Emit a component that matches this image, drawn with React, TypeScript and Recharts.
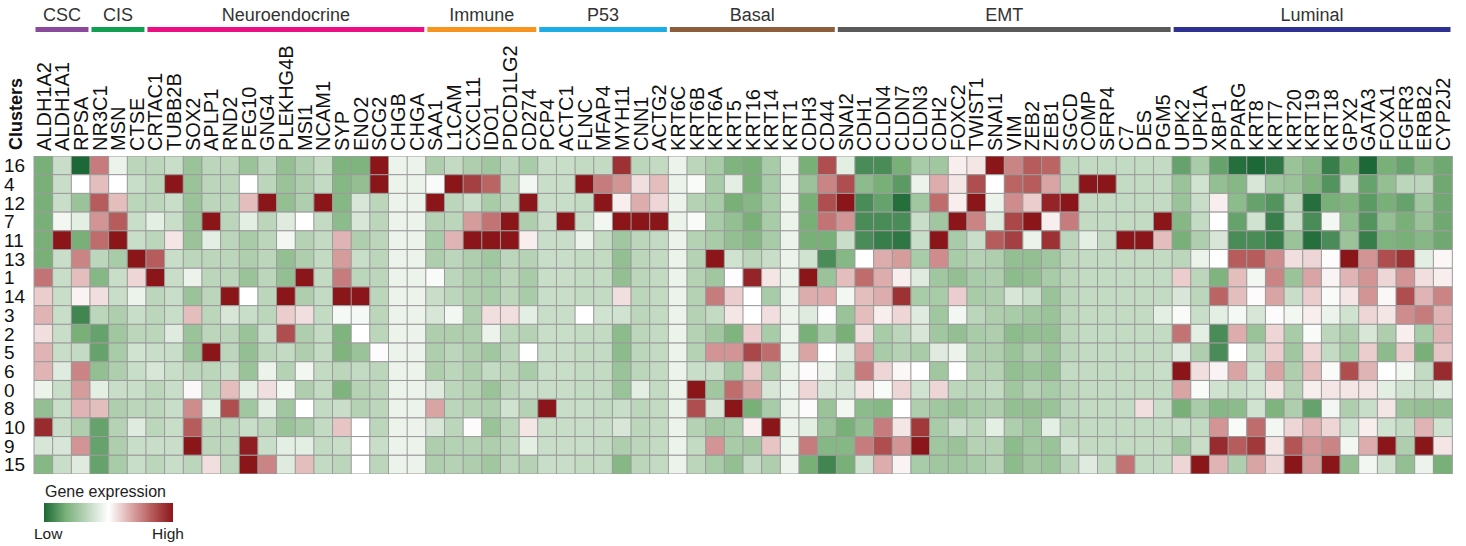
import { Bar, BarChart, Cell, LabelList, XAxis, YAxis } from "recharts";

const FONT = '"Liberation Sans", Arial, Helvetica, sans-serif';

const genes = [
  "ALDH1A2", "ALDH1A1", "RPSA", "NR3C1", "MSN", "CTSE", "CRTAC1", "TUBB2B", "SOX2", "APLP1",
  "RND2", "PEG10", "GNG4", "PLEKHG4B", "MSI1", "NCAM1", "SYP", "ENO2", "SCG2", "CHGB",
  "CHGA", "SAA1", "L1CAM", "CXCL11", "IDO1", "PDCD1LG2", "CD274", "PCP4", "ACTC1", "FLNC",
  "MFAP4", "MYH11", "CNN1", "ACTG2", "KRT6C", "KRT6B", "KRT6A", "KRT5", "KRT16", "KRT14",
  "KRT1", "CDH3", "CD44", "SNAI2", "CDH1", "CLDN4", "CLDN7", "CLDN3", "CDH2", "FOXC2",
  "TWIST1", "SNAI1", "VIM", "ZEB2", "ZEB1", "SGCD", "COMP", "SFRP4", "C7", "DES",
  "PGM5", "UPK2", "UPK1A", "XBP1", "PPARG", "KRT8", "KRT7", "KRT20", "KRT19", "KRT18",
  "GPX2", "GATA3", "FOXA1", "FGFR3", "ERBB2", "CYP2J2",
];

const groupNames = ["CSC", "CIS", "Neuroendocrine", "Immune", "P53", "Basal", "EMT", "Luminal"];
const groupSizes = [3, 3, 15, 6, 7, 9, 18, 15];
const groupColors = ["#8a4a9c", "#10a04f", "#ea1083", "#f7941e", "#1badE4", "#8c5e3c", "#5a5a5a", "#2e3192"];

const clusters = ["16", "4", "12", "7", "11", "13", "1", "14", "3", "2", "5", "6", "0", "8", "10", "9", "15"];

// scaled expression per cluster, one value per gene (low < 0 < high)
const cl16 = [
  -2, -0.8, -3, 1.6, -0.3, -1, -1, -0.8, -1.5, -1, -1, -1.5, -1,
  -1.6, -1.2, -0.9, -1.9, -1.9, 3, -0.3, -0.3, -1.2, -0.9, -1.2, -1.4,
  -1, -1.3, -0.8, -0.8, -0.9, -0.9, 2.6, -1, -0.9, -0.3, -1, -1.3, -1.9,
  -2, -1.3, -0.3, -2, 2.2, -0.4, -2.5, -2.5, -2, -1.3, -1.4, 0.2, 0.3,
  3, 1.5, 2, 1.9, -1, -0.9, -0.9, -0.9, -0.9, -0.9, -2.2, -1.3,
  -2.2, -2.9, -3, -2.8, -1.5, -1.8, -2.7, -2, -3, -2, -2.2, -1.8, -2.1,
];
const cl4 = [
  -2, -0.8, 0, 0.8, 0, -0.8, -1, 3, -1.5, -1, -1, 0, -1,
  -1.5, -1.2, -0.9, -1.8, -1.6, 3, -0.3, -0.3, -0.1, 3, 2.4, 1.9,
  -1, -0.2, -0.8, -0.8, 3, 1.6, 1.3, 0.4, 0.8, -0.3, -0.1, -1.3, -0.4,
  -2, -1.3, -0.3, -1.5, 1.5, 2.2, -1.7, -2, -2.3, -0.3, 1.0, 0.3, 2.2,
  0, 1.9, 2, 1.1, -1, 3, 3, -0.9, -0.9, -0.9, -1.5, -0.7,
  -1.6, -1.8, -0.6, -1.4, -1.5, -1.9, -2.4, -0.9, -2.2, -1.6, -1, -1, -2.1,
];
const cl12 = [
  -2, -0.8, -1.5, 2, 0.8, -1, -1, -0.8, -1.5, -1, -1, 0.8, 3,
  -1.6, -1.2, 3, -1.8, -0.6, -1, -0.3, -0.3, 3, -1, -0.8, -1.3,
  -1, 3, -0.8, -0.8, -0.9, 3, 0.2, 1.0, 0.5, -0.3, -1.1, -1.3, -2,
  -1.8, -1.3, -0.3, -2, 2.2, 3, -2.5, -2.2, -2.9, -1.4, 1.8, 0.2, 3,
  -0.3, 1.4, 0.6, 2.8, 3, -0.9, -0.9, -0.9, -0.9, -0.9, -1.5, -0.8,
  0.2, -1.7, -2.2, -2.4, -1, -2.9, -2, -1.9, -2.3, -2, -2.2, -1.4, -2.1,
];
const cl7 = [
  -2, -0.2, -0.4, 1.3, 2, -0.8, -0.4, -0.8, -1.5, 3, -1, -0.4, -1,
  -0.5, 0, -0.9, -1.7, -0.6, -1, -0.3, -0.3, -1.1, -1, 1.2, 1.7,
  3, -1.2, -0.8, 3, -0.8, -0.2, 3, 3, 3, -0.3, -0.1, -1.3, -1.6,
  -2, -1.3, -0.3, -2, 1.7, 1.3, -2.5, -2.5, -2.5, -0.8, -1.4, 3, 1.5,
  -0.5, 2.3, 3, 0.2, 1.6, -0.9, -0.9, -0.9, -0.9, 3, -1.8, -0.9,
  0, -2.2, -0.7, -2.7, -0.8, -2.5, -0.2, -1.7, -2.4, -1.6, -2, -1.5, -2.1,
];
const cl11 = [
  -2, 3, -2, 1.8, 3, -0.8, -1, 0.3, -1.5, -0.4, -1, -1.3, -1,
  -0.2, -1.1, -0.9, 0.9, -1.2, -1, -0.3, -0.3, -1.3, 0.9, 3, 3,
  3, 0.2, -0.8, -0.8, -0.3, -0.9, -1.4, -1, -0.9, -0.3, -1.1, -1.3, -1.6,
  -1.8, -1.3, -0.3, -2, -2, -0.8, -2.5, -2.7, -2.8, -0.8, 3, -1.3, -0.8,
  2, 2.4, -0.3, 2.6, -1, -0.4, -0.9, 3, 3, 0.8, -2, -1.2,
  -0.6, -2.5, -2.5, -2.7, -1.5, -2.9, -2.5, -1.5, -2.7, -1.9, -2, -1.8, -2.1,
];
const cl13 = [
  -2, -0.8, 1.5, -1, -1.3, 3, 2, -0.8, -1, -1, -1, -1.2, -1,
  -1.6, -1.2, -0.9, 1.2, -0.8, -1, -0.3, -0.3, -1.2, -1, -1.2, -1.4,
  -1, -1.1, -0.8, -0.8, -0.9, -0.9, -1.6, -1, -0.9, -0.3, -1.1, 3, -0.7,
  -1, -0.8, -0.3, -0.7, -2.5, -1.8, 0, 1.0, 1.2, -1.3, 1.4, -1.3, -1.1,
  -1.2, -1.6, -1.6, -1.4, -1, -0.9, -0.9, -0.9, -0.9, -0.9, -1, -0.3,
  0, 2, 2, 1.4, 0.4, 0.5, 0.05, 3, 1.3, 2.2, 2.6, -0.4, 0.1,
];
const cl1 = [
  1.7, -0.8, 0.8, -1.8, -0.8, 0.5, 3, -0.8, -0.3, -1, -1, -1.5, -1,
  -1.6, 3, -0.9, 1.6, -1, -1, -0.3, -0.3, -0.1, -1, -1.2, -1.3,
  -1, -1.3, -0.8, -0.8, -0.9, -0.9, -1.6, -1, -0.9, -0.3, -1.1, -1.4, -0.05,
  2.8, 0.3, -0.3, 3, -1.5, 0.8, 1.8, 1.0, 0.2, -0.5, -1.4, -1.6, -1.3,
  -1.2, -1.7, -1.6, -1.3, -1, -0.9, -0.9, -0.9, -0.9, -0.9, 0.6, -1,
  -1.9, 0.8, -0.2, 1.5, -1.5, 1.1, 0.15, 0.9, 1.3, 0.5, 1.3, 0.4, 0.2,
];
const cl14 = [
  0.6, -0.8, 0.15, 0.4, -0.8, -0.3, -1, -0.8, -1.5, -1, 3, 0, -1,
  3, -1.2, -0.9, 3, 3, -1, -0.3, -0.3, -0.8, -1, -1.2, -1.3,
  -1, -1.3, -0.8, -0.8, -0.9, -0.9, 0.4, -1, -0.9, -0.3, -1.1, 1.6, 0.6,
  0, -1.3, -0.3, 1.0, 1.0, -0.2, 0.8, 1.0, 2.6, -1.3, -1.3, 0.6, -1.3,
  -1.2, -0.6, -0.8, -1.5, -1, -0.9, -0.9, -0.9, -0.9, -0.9, -0.6, -1,
  1.9, 0.8, 0.05, 1.1, -0.8, 0.6, -0.1, 0.3, 1.3, 0.1, 2.2, 0.9, 1.5,
];
const cl3 = [
  0.9, -0.8, -2.6, -1, -1.2, -0.8, -1, -0.8, 0.8, -1, -0.6, -0.8, -1,
  0.6, 0.4, -0.9, -0.15, -0.15, -1, -0.3, -0.3, -0.6, -0.2, -1.2, 0.4,
  0.4, -0.4, -0.8, -0.8, 0, -0.7, -0.7, -1, -0.9, -0.3, -1.1, -0.9, 0.3,
  0, 0.4, -0.3, -0.5, -0.05, -1.5, 0.8, 0.2, 0.5, -0.5, -1.4, -0.2, -1,
  -1.2, -1.3, -1.4, -1.5, -1, -0.9, -0.9, -0.9, -0.9, -0.4, -0.1, -0.8,
  -0.4, -0.15, -0.6, 0.05, -0.2, 0.2, -0.3, -0.7, 0.5, 0.3, 1.4, 1.6, 0.9,
];
const cl2 = [
  0.4, -0.8, -2, -2.2, -1.4, -1, -1, -0.5, -1.5, -1, -1, -1.5, -0.8,
  2.2, -1.2, -0.9, -1.9, 0, -1, -0.3, -0.3, -1.2, -1.2, -1.2, -0.3,
  -1, -1.1, -0.8, -0.8, -0.9, -0.9, -1.7, -1, -0.9, -0.3, -1.1, -1.4, -1.9,
  0.6, -1.3, -0.3, -2, -1.3, -2, 0.4, -1.3, -1, -0.6, -1.4, -1.6, -1.3,
  -1.2, -1.7, -1.6, -1.6, -1, -0.9, -0.9, -0.9, -0.9, -0.9, 1.7, -0.4,
  -2.5, 1, -1.5, 0.5, -1.3, -0.1, -1, -1.2, -0.6, -1.2, 0.2, -1.3, 0.9,
];
const cl5 = [
  0.9, -0.8, -0.9, -2.2, -1.3, -0.7, -0.8, -0.8, -1.5, 3, -1, -1.6, -1,
  -0.9, -1.2, -0.9, -1.9, -1.5, 0.05, -0.3, -0.3, -1.2, -1, -1.2, -1.4,
  -1, 0, -0.8, -0.8, -0.9, -0.9, -1.7, -1, -0.9, -0.3, -1.1, 1.3, 1.3,
  2.3, 1.8, -0.3, 1.1, 0, -0.5, 1.1, -1.3, -1.1, -1.3, -0.5, -0.3, -1.2,
  -1.2, -1.5, -1.2, -1.5, -1, -0.9, -0.9, -0.9, -0.9, -0.9, -0.5, -1.2,
  -2.5, 0, -0.9, 0.6, -1.4, 0.5, -0.9, -1.3, 0.6, -1.7, 0.6, -2, 0.7,
];
const cl6 = [
  0.9, -0.5, 1.5, -1.6, -1.2, -0.8, -0.6, -0.8, -1, -1, -0.8, -1.5, -0.3,
  -1.1, -0.2, -0.9, -1, -0.9, -1, -0.3, -0.3, -1.2, -1, -1.2, -0.9,
  -1, -1.3, -0.8, -0.8, -0.9, -0.9, -1.5, -1, -0.9, -0.3, -0.8, -0.8, -1.4,
  0.6, -1.2, -0.3, 0.05, -0.3, -0.8, 1.6, 0.5, 0.1, 0, -1.4, 0, -1.1,
  -1.1, -1.6, -1.5, -1.6, -0.9, -0.9, -0.9, -0.9, -0.9, -0.8, 3, 0.4,
  0.15, 1.1, -0.7, 1.1, -1.2, 0.8, -0.1, 2.2, 0.9, 0, -0.2, -0.9, 2.7,
];
const cl0 = [
  -0.3, -0.8, 1.2, -0.4, -0.8, -0.8, -1, -0.8, 0.1, -1, 0.8, -0.4, 0.4,
  -0.2, -1.2, -0.9, -1.9, -1.1, -1, -0.3, -0.3, -0.5, -1, -1.1, -1.5,
  -1, -0.8, -0.8, -0.8, -0.9, -0.9, -1.5, -0.4, -0.9, -0.3, 3, -1.4, 1.8,
  1.1, -0.6, -0.3, 0.5, -0.6, -0.6, 0.3, -0.1, 0.5, -0.7, 0.5, -1, -1,
  -0.9, -1.4, -1.1, -1.3, -1, -0.9, -0.9, -0.9, -0.9, -0.9, 1.1, -0.1,
  -0.7, -0.8, -0.7, 0.3, -1.1, 0.2, 0.3, 0.3, 0.3, -0.4, -0.7, -0.8, -0.5,
];
const cl8 = [
  -1.6, -0.8, 0.9, 0.8, -1.2, -1, -1, -0.8, 1.4, -0.4, 2.2, -1.4, -0.4,
  -1.4, 0, -0.9, -0.8, -1.1, -1, -0.3, -0.3, 1.1, -1, -1.1, -1.2,
  -0.7, -1.1, 3, -0.8, -0.8, -0.9, -0.8, -1, -0.9, -0.3, 2.2, -0.6, 3,
  -2, -1.3, -0.3, 0.05, -1.5, -0.2, -1.7, -1.8, 0, -1.2, -1.4, -1.5, -1.3,
  -1.2, -1.6, -1.6, -1.5, -1, -0.9, -0.9, -0.9, 0.4, -0.8, -2, -1.3,
  -1.8, -1.7, -0.7, -1.9, -1.2, -2.2, -0.2, -1.2, -0.8, 0.3, -1.5, -1.6, -1.6,
];
const cl10 = [
  2.7, -0.8, -1.2, -2.2, -1.1, -0.5, -1, -0.8, 2, -1, -1, -0.8, -1,
  -1.5, -1.3, -0.9, 0.7, 0, -1, -0.3, -0.3, -0.6, -1, 0.05, -1.5,
  -1, 0.3, -0.8, -0.8, -0.8, -0.8, -0.6, -1, -0.9, -0.3, -1.1, -1.4, -1.3,
  0.2, 3, -0.3, -0.4, -1.5, -2, -1.6, 1.6, 0.3, 2.5, -1.3, -0.8, -1,
  -0.4, -1.2, -1.4, -0.4, -1, -0.9, -0.9, -0.9, -0.9, -0.9, -0.8, -0.9,
  1.3, -0.1, 1.8, -0.2, 0.5, 0.9, 0.5, -0.7, 0.2, -0.7, -0.9, 0.9, -0.7,
];
const cl9 = [
  -0.6, -0.6, 1.3, -2.2, -1.2, -0.8, -0.8, -0.8, 3, -1, -1, 2.9, -0.8,
  -0.4, -0.4, -0.9, -0.8, 0, -0.8, -0.3, -0.3, -1.2, -1.1, -1.1, -1.2,
  -1, -0.4, -0.8, -0.8, -0.8, -0.9, -1.2, -1, -0.9, -0.3, -0.9, 1.3, -1.3,
  -1.4, 0.7, -0.3, 1.6, -1.8, -1.8, 1.6, 2.2, 1.3, 3, -1.4, -1.5, -1.1,
  -1.1, -1.7, -1.4, -1.5, -0.7, -0.9, -0.9, -0.9, -0.9, -0.9, -1.4, -0.8,
  2.7, 2, 2.5, 0.3, 2.1, 1.3, 1.5, -0.2, 1, 3, -1.2, 3, 0.3,
];
const cl15 = [
  -1.8, -0.8, -0.5, -2.2, -1.3, -0.8, -1, -0.8, -1, 0.4, -1, 3, 1.5,
  -0.5, 0.8, -0.9, -1, 0, -1, -0.3, -0.3, -1.2, -1.1, -1.2, -1.4,
  -1, -1.1, -0.8, -0.8, -0.9, -0.9, -1.8, -1, -0.9, -0.3, -1, -1.3, -1.6,
  -0.9, -1.2, -0.3, -2, -2.6, -2, -0.7, 1, 0.15, -1.3, -1.4, -1.4, -1.3,
  -1.1, -1.7, -1.4, -1.5, -1, -0.5, -0.9, 1.7, -0.9, -0.9, 0.5, 3,
  0.9, -1.2, 1.1, 0.5, 3, 1.2, 3, -1.6, -0.2, -0.7, -1.6, -0.3, -2,
];

const expression = [cl16, cl4, cl12, cl7, cl11, cl13, cl1, cl14, cl3, cl2, cl5, cl6, cl0, cl8, cl10, cl9, cl15];

// colour ramp: dark green -> white -> dark red
const GREEN = [[255, 255, 255], [188, 214, 188], [120, 176, 120], [28, 104, 54]];
const RED = [[255, 255, 255], [221, 172, 172], [183, 92, 92], [139, 22, 26]];

function colorFor(v: number) {
  const stops = v < 0 ? GREEN : RED;
  const a = Math.min(Math.abs(v), 3);
  const i = Math.min(Math.floor(a), 2);
  const t = a - i;
  const c = stops[i].map((s, k) => Math.round(s + (stops[i + 1][k] - s) * t));
  return `rgb(${c[0]},${c[1]},${c[2]})`;
}

const heatData = genes.map((gene) => {
  const row: Record<string, string | number> = { gene };
  clusters.forEach((_, ci) => {
    row[`c${ci}`] = 1;
  });
  return row;
});

const groupData = [
  Object.fromEntries([["name", "groups"], ...groupNames.map((n, i) => [n, groupSizes[i]])]),
];

const rowTicks = clusters.map((_, i) => i + 0.5);

function GeneTick(props: any) {
  const { x, y, payload } = props;
  return (
    <text
      transform={`translate(${x},${y}) rotate(-90)`}
      textAnchor="start"
      dy="0.36em"
      fontSize={20}
      fill="#111"
    >
      {payload.value}
    </text>
  );
}

function ClusterTick(props: any) {
  const { y, payload } = props;
  const label = clusters[Math.floor(payload.value)];
  return (
    <text x={4} y={y} dy="0.36em" textAnchor="start" fontSize={19} fill="#111">
      {label}
    </text>
  );
}

function GroupBar(props: any) {
  const { x, y, width, height, fill } = props;
  return <rect x={x + 1.5} y={y} width={Math.max(width - 3, 0)} height={height} fill={fill} />;
}

const legendStops = [-3, -2.5, -2, -1.5, -1, -0.5, 0, 0.5, 1, 1.5, 2, 2.5, 3];

export default function App() {
  return (
    <div
      style={{
        position: "absolute",
        left: 0,
        top: 0,
        width: 1466,
        height: 546,
        background: "#fff",
        fontFamily: FONT,
      }}
    >
      <div style={{ position: "absolute", left: 0, top: 0 }}>
        <BarChart
          width={1466}
          height={40}
          layout="vertical"
          data={groupData}
          margin={{ top: 27, right: 14, bottom: 8, left: 34 }}
          barCategoryGap={0}
        >
          <XAxis type="number" domain={[0, 76]} allowDataOverflow hide />
          <YAxis type="category" dataKey="name" hide />
          {groupNames.map((n, i) => (
            <Bar
              key={n}
              dataKey={n}
              stackId="g"
              fill={groupColors[i]}
              shape={GroupBar}
              isAnimationActive={false}
            >
              <LabelList position="top" offset={6} formatter={() => n} fill="#333" fontSize={18} />
            </Bar>
          ))}
        </BarChart>
      </div>

      <div style={{ position: "absolute", left: 0, top: 0 }}>
        <BarChart
          width={1466}
          height={546}
          data={heatData}
          margin={{ top: 40, right: 14, bottom: 72, left: 0 }}
          barCategoryGap={0}
          barGap={0}
        >
          <XAxis
            dataKey="gene"
            type="category"
            orientation="top"
            interval={0}
            height={116}
            tickSize={0}
            tickMargin={5}
            axisLine={false}
            tickLine={false}
            tick={<GeneTick />}
          />
          <YAxis
            type="number"
            domain={[0, clusters.length]}
            allowDataOverflow
            reversed
            ticks={rowTicks}
            interval={0}
            width={34}
            tickSize={0}
            axisLine={false}
            tickLine={false}
            tick={<ClusterTick />}
          />
          {clusters.map((c, ci) => (
            <Bar
              key={c}
              dataKey={`c${ci}`}
              stackId="heat"
              stroke="#9b9b9b"
              strokeWidth={1}
              isAnimationActive={false}
            >
              {genes.map((g, gi) => (
                <Cell key={g} fill={colorFor(expression[ci][gi] ?? 0)} />
              ))}
            </Bar>
          ))}
        </BarChart>
      </div>

      <svg
        width={1466}
        height={546}
        style={{ position: "absolute", left: 0, top: 0, pointerEvents: "none" }}
      >
        <defs>
          <linearGradient id="exprGrad" x1="0" x2="1" y1="0" y2="0">
            {legendStops.map((v, i) => (
              <stop key={v} offset={`${(i / (legendStops.length - 1)) * 100}%`} stopColor={colorFor(v)} />
            ))}
          </linearGradient>
        </defs>
        <text
          transform="translate(16,150) rotate(-90)"
          textAnchor="start"
          dy="0.36em"
          fontSize={18}
          fontWeight="bold"
          fill="#111"
        >
          Clusters
        </text>
        <text x={45} y={497} fontSize={16} fill="#222">
          Gene expression
        </text>
        <rect x={44} y={503} width={129} height={19} fill="url(#exprGrad)" />
        <text x={34} y={539} fontSize={15.5} fill="#222">
          Low
        </text>
        <text x={152} y={539} fontSize={15.5} fill="#222">
          High
        </text>
      </svg>
    </div>
  );
}
